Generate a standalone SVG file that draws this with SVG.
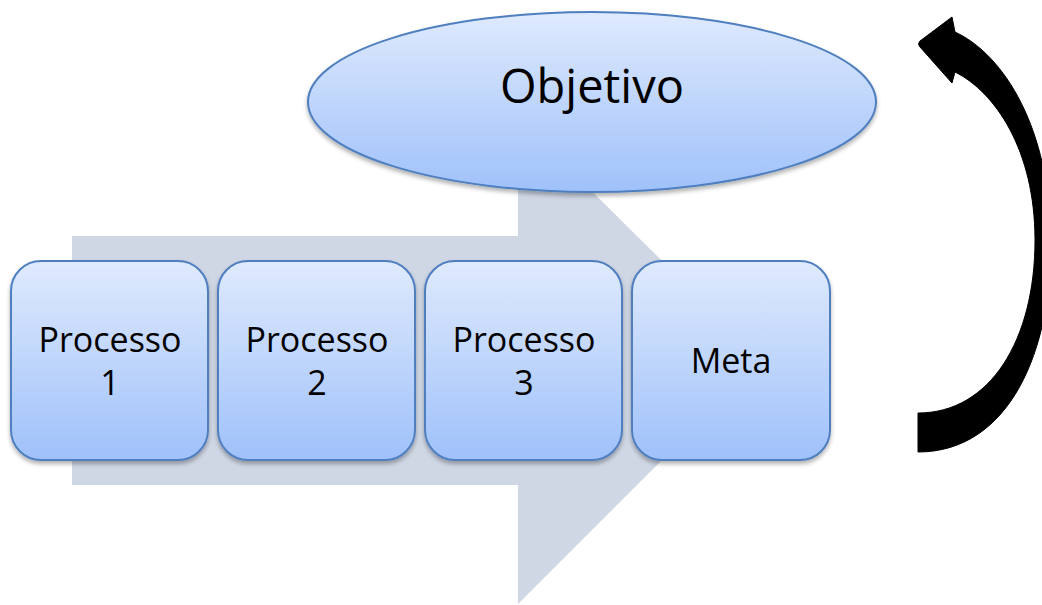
<svg xmlns="http://www.w3.org/2000/svg" width="1042" height="605" viewBox="0 0 1042 605">
  <defs>
    <linearGradient id="blueFill" x1="0" y1="0" x2="0" y2="1">
      <stop offset="0" stop-color="#dfeafd"/>
      <stop offset="1" stop-color="#9fc1fa"/>
    </linearGradient>
    <filter id="shadow" x="-10%" y="-10%" width="120%" height="130%">
      <feDropShadow dx="0" dy="3" stdDeviation="2" flood-color="#000" flood-opacity="0.3"/>
    </filter>
    <style>
      .box { fill: url(#blueFill); stroke: #4f7fbf; stroke-width: 2; filter: url(#shadow); }
      .lbl { font-family: "Open Sans", "Liberation Sans", sans-serif; font-size: 34px; fill: #000; text-anchor: middle; }
      .big { font-size: 47px; }
    </style>
  </defs>
  <rect width="1042" height="605" fill="#fff"/>

  <!-- background process arrow -->
  <polygon id="flow" points="72,236 518,236 518,118 762,360 518,604 518,485 72,485" fill="#cfd6e4"/>

  <!-- goal ellipse -->
  <g id="objetivo">
    <ellipse cx="592" cy="102" rx="284" ry="90" class="box"/>
    <text x="592" y="103" class="lbl big">Objetivo</text>
  </g>

  <g id="processo1">
    <rect x="11" y="261" width="197" height="199" rx="30" class="box"/>
    <text x="110" y="352" class="lbl">Processo</text>
    <text x="110" y="395" class="lbl">1</text>
  </g>
  <g id="processo2">
    <rect x="218" y="261" width="197" height="199" rx="30" class="box"/>
    <text x="317" y="352" class="lbl">Processo</text>
    <text x="317" y="395" class="lbl">2</text>
  </g>
  <g id="processo3">
    <rect x="425" y="261" width="197" height="199" rx="30" class="box"/>
    <text x="524" y="352" class="lbl">Processo</text>
    <text x="524" y="395" class="lbl">3</text>
  </g>
  <g id="meta">
    <rect x="632" y="261" width="198" height="199" rx="30" class="box"/>
    <text x="731" y="373" class="lbl">Meta</text>
  </g>

  <!-- feedback loop arrow -->
  <g id="connectors">
    <path d="M918,452 C1010,452 1052,350 1051,240 C1050,130 1005,55 955,32 L952,17 L920,41 Q917,44 920,47 L952,83 L955,72 C995,92 1035,150 1035,240 C1035,340 990,413 918,413 Z" fill="#000" stroke="#000" stroke-width="1" stroke-linejoin="round"/>
  </g>
</svg>
